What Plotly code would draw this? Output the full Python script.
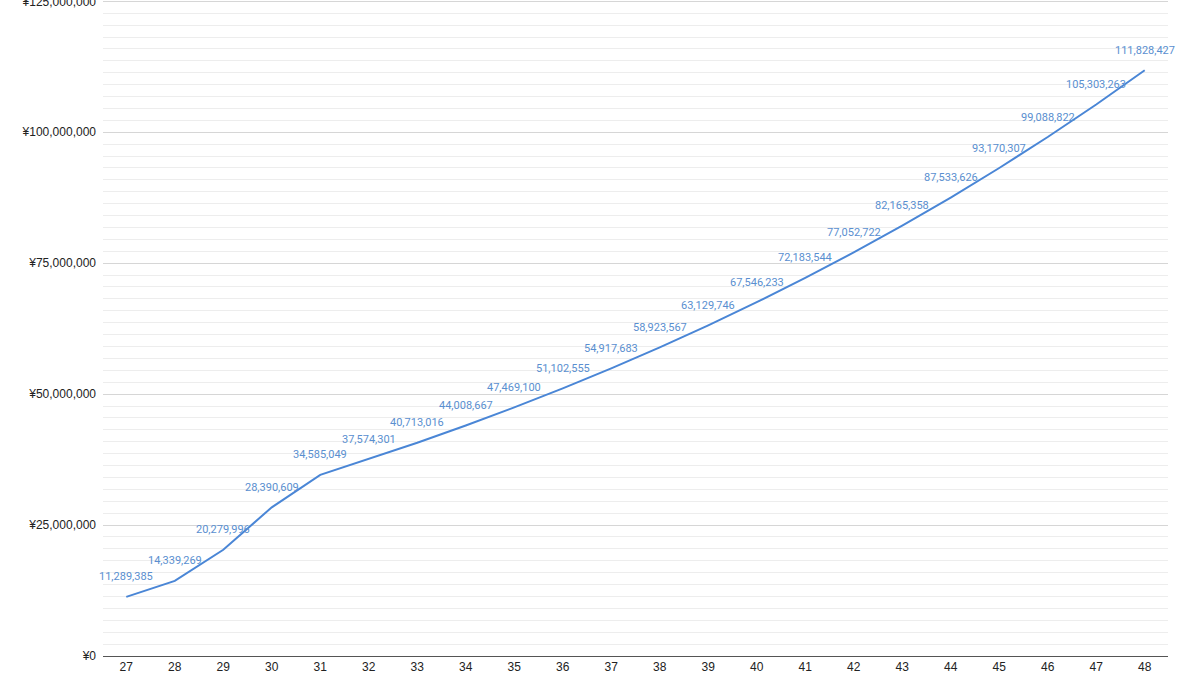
import plotly.graph_objects as go

# ages (x) and cumulative assets in yen (y)
ages = list(range(27, 49))
assets = [
    11289385, 14339269, 20279996, 28390609, 34585049, 37574301, 40713016,
    44008667, 47469100, 51102555, 54917683, 58923567, 63129746, 67546233,
    72183544, 77052722, 82165358, 87533626, 93170307, 99088822, 105303263,
    111828427,
]
y_ticks = [0, 25000000, 50000000, 75000000, 100000000, 125000000]

LINE_COLOR = "#4a86d6"
LABEL_COLOR = "#5a8fd0"

fig = go.Figure()
fig.add_trace(go.Scatter(
    x=ages, y=assets, mode="lines",
    line=dict(color=LINE_COLOR, width=2),
    hoverinfo="skip", showlegend=False,
))

# data labels above each point
for a, v in zip(ages, assets):
    fig.add_annotation(
        x=a, y=v, text=f"{v:,}", showarrow=False,
        yshift=20, xanchor="center", yanchor="middle",
        font=dict(family="Roboto, Arial, sans-serif", size=11, color=LABEL_COLOR),
    )

fig.update_layout(
    width=1200, height=683,
    margin=dict(l=103, r=32, t=0, b=27, autoexpand=False),
    plot_bgcolor="white", paper_bgcolor="white",
    font=dict(family="Arial, Liberation Sans, sans-serif", size=12, color="#333333"),
)
fig.update_xaxes(
    range=[26.52, 48.48], tickmode="array", tickvals=ages,
    ticktext=[str(a) for a in ages], showgrid=False,
    showline=True, linecolor="#555555", linewidth=1,
    ticks="", ticklen=0, zeroline=False, automargin=False,
    tickfont=dict(size=12, color="#222222"),
)
fig.update_yaxes(
    range=[0, 125250000], tickmode="array", tickvals=y_ticks,
    ticktext=[f"¥{t:,}" for t in y_ticks],
    showgrid=True, gridcolor="#d6d6d6", gridwidth=1,
    zeroline=False, ticks="", ticklabelstandoff=6, automargin=False,
    ticklabeloverflow="allow",
    tickfont=dict(size=12, color="#222222"),
    minor=dict(tick0=0, dtick=25000000 / 11, showgrid=True,
               gridcolor="#ededed", gridwidth=1),
)

# drop the page's default body margin so the chart sits at the window edge
fig.write_html("out.html", config={"displayModeBar": False},
               post_script="document.body.style.margin='0';")
